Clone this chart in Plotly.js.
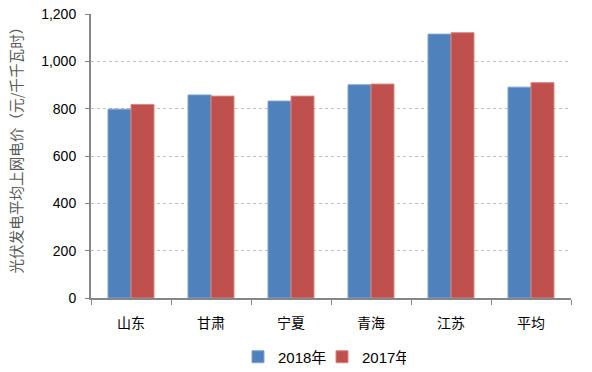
<!DOCTYPE html>
<html><head><meta charset="utf-8">
<script src="https://cdn.plot.ly/plotly-3.0.1.min.js"></script>
<style>body{margin:0;padding:0;background:#fff}#c{width:592px;height:372px}</style>
</head><body><div id="c"></div>
<script>
const categories = ['山东','甘肃','宁夏','青海','江苏','平均'];
const values2018 = [798, 858, 832, 901, 1115, 891];
const values2017 = [818, 853, 853, 904, 1121, 910];
const seriesNames = ['2018年','2017年'];
const yTicks = [0,200,400,600,800,1000,1200];
const yTickText = ['0','200','400','600','800','1,000','1,200'];
const yTitle = '光伏发电平均上网电价（元/千千瓦时）';

const cjk = '"Noto Sans CJK SC", "Liberation Sans", sans-serif';
const traces = [
  {type:'bar', x:categories, y:values2018, name:seriesNames[0],
   marker:{color:'#4F81BD', line:{color:'#7FA3D0', width:1}}},
  {type:'bar', x:categories, y:values2017, name:seriesNames[1],
   marker:{color:'#C0504D', line:{color:'#D58583', width:1}}}
];
const layout = {
  width:592, height:372,
  margin:{l:91, r:21, t:14, b:74, autoexpand:false},
  paper_bgcolor:'#fff', plot_bgcolor:'#fff',
  barmode:'group', bargap:0.425, bargroupgap:0,
  font:{family:cjk, color:'#000'},
  showlegend:true,
  legend:{orientation:'h', x:0.5 + 26/592, xanchor:'center', xref:'container',
    y:(372-357)/372, yanchor:'middle', yref:'container',
    font:{family:'"Liberation Sans", "Noto Sans CJK SC", sans-serif', size:15, color:'#000'},
    itemwidth:30, entrywidth:39, entrywidthmode:'pixels',
    traceorder:'normal', tracegroupgap:0},
  xaxis:{type:'category', showline:true, linecolor:'#868686', linewidth:2,
    ticks:'outside', tickson:'boundaries', ticklen:5, tickcolor:'#868686', tickwidth:1,
    ticklabelstandoff:11,
    tickfont:{family:cjk, size:14, color:'#000'}, showgrid:false, zeroline:false},
  yaxis:{range:[0,1200], tickvals:yTicks, ticktext:yTickText,
    showline:true, linecolor:'#868686', linewidth:2,
    ticks:'outside', ticklen:4, tickcolor:'#868686',
    ticklabelstandoff:6,
    showgrid:true, gridcolor:'#BFBFBF', griddash:'dot', gridwidth:1,
    zeroline:false,
    tickfont:{family:'"Liberation Sans", sans-serif', size:14, color:'#000'}},
  annotations:[{text:yTitle, xref:'paper', yref:'paper', x:(15-91)/(592-91-21), y:0.5,
    xanchor:'center', yanchor:'middle', textangle:-90, showarrow:false,
    yshift:(156-146.5),
    font:{family:cjk, size:14.6, color:'#595959'}}]
};
Plotly.newPlot('c', traces, layout, {displayModeBar:false, staticPlot:true});
</script></body></html>
